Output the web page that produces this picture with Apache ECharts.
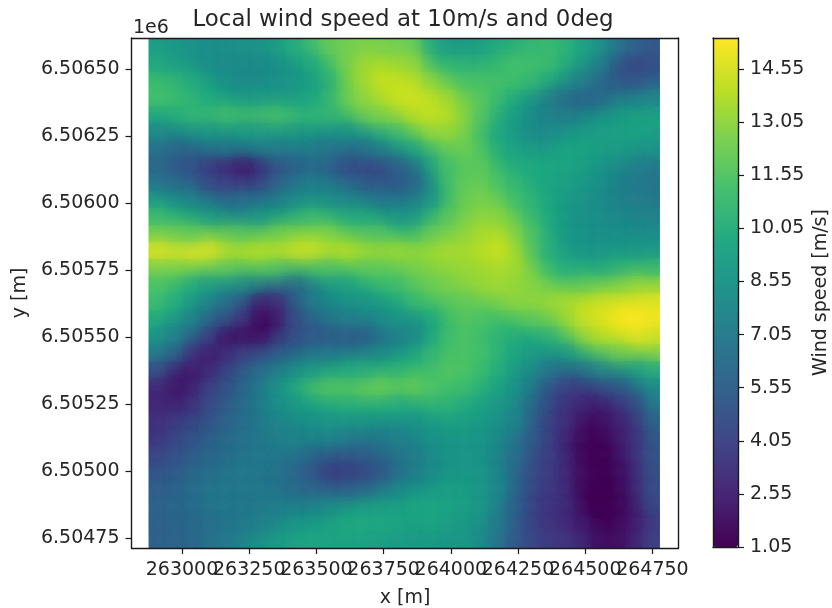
<!DOCTYPE html>
<html>
<head>
<meta charset="utf-8">
<style>html,body{margin:0;padding:0;background:#fff}#c{width:832px;height:608px}</style>
<script src="https://cdn.jsdelivr.net/npm/echarts@6/dist/echarts.min.js"></script>
</head>
<body>
<div id="c"></div>
<script>
const titleText = 'Local wind speed at 10m/s and 0deg';
const xTicks = [263000,263250,263500,263750,264000,264250,264500,264750];
const yTicks = [6504750,6505000,6505250,6505500,6505750,6506000,6506250,6506500];
const barTicks = [1.05,2.55,4.05,5.55,7.05,8.55,10.05,11.55,13.05,14.55];
const viridis = ['#440154','#482475','#414487','#355f8d','#2a788e','#21918c','#22a884','#44bf70','#7ad151','#bddf26','#fde725'];
const xRange = [262875,264778];
const yRange = [6504714,6506615];
const xLimits = [262812,264847];
// wind speed, rows run top to bottom, columns left to right
const speed = [
[9.0,8.8,8.4,8.2,8.2,8.4,8.6,9.0,10.0,11.0,12.0,12.4,12.6,12.6,12.4,12.2,10.0,9.0,8.8,9.2,9.8,10.2,10.6,10.8,10.4,9.4,8.4,7.0,5.8,5.2],
[9.8,9.2,8.6,8.2,8.0,7.9,8.0,8.2,8.8,9.8,11.0,12.4,13.4,13.7,13.6,13.2,11.2,10.6,10.4,10.4,10.8,11.2,11.2,11.0,10.2,9.0,7.4,5.0,4.0,4.6],
[11.0,10.8,10.0,9.2,8.4,8.0,8.0,8.3,8.6,8.9,10.2,12.2,13.4,14.2,14.2,14.2,13.0,12.0,11.4,11.3,11.3,11.1,10.6,9.8,8.6,7.2,6.0,5.2,5.0,5.6],
[11.2,11.2,10.6,9.8,9.2,9.0,9.0,9.0,9.2,9.6,10.6,12.0,13.0,13.8,14.2,14.4,14.2,13.4,12.4,11.8,10.8,9.8,8.6,7.2,5.8,5.6,6.0,7.2,7.8,7.8],
[9.8,10.0,10.6,11.0,11.2,11.4,11.6,11.4,11.2,10.6,10.6,11.2,12.0,12.6,13.2,13.8,14.2,14.0,13.0,11.6,10.0,9.0,8.2,7.6,7.2,7.6,8.4,9.0,9.6,9.4],
[8.0,8.0,8.2,8.6,8.6,8.8,9.0,9.0,8.8,8.6,8.4,8.4,9.0,10.0,11.0,12.0,13.0,13.2,12.6,11.2,9.6,8.6,8.0,8.0,8.6,9.0,9.2,9.4,9.4,9.2],
[6.6,6.0,6.0,6.4,6.8,7.0,7.0,7.2,7.4,7.2,6.8,6.4,6.6,7.4,8.4,9.6,11.0,12.0,12.2,11.6,10.2,9.4,9.0,9.2,9.6,9.6,9.2,9.0,8.8,8.6],
[6.0,5.0,4.8,3.6,2.6,2.2,2.8,4.4,5.6,6.0,5.8,4.6,4.0,4.2,5.6,6.2,9.0,11.2,11.8,11.8,10.8,10.0,9.8,9.8,9.6,9.2,8.6,8.0,7.4,7.0],
[7.0,6.4,5.8,4.6,4.0,3.8,4.2,5.8,6.8,7.4,7.2,6.4,5.6,5.2,5.2,5.8,8.0,11.0,12.0,12.2,11.4,10.6,10.0,9.6,9.2,8.8,8.2,7.6,7.0,6.8],
[9.0,8.4,7.8,7.0,6.6,6.4,6.8,7.4,8.0,8.4,8.2,7.8,7.4,7.0,7.0,7.0,8.6,11.0,12.2,12.6,12.2,11.2,10.4,9.6,9.0,8.4,8.0,7.6,7.2,7.0],
[11.0,10.4,9.8,9.0,8.4,8.2,8.6,9.4,10.4,11.0,10.8,10.2,9.8,9.2,8.8,8.8,10.6,11.8,12.6,13.0,13.0,12.0,10.8,9.6,8.8,8.4,8.2,8.0,7.8,7.6],
[12.6,12.4,12.0,12.4,12.0,11.8,12.0,12.4,12.8,13.0,12.8,12.2,12.0,11.6,11.0,11.2,12.2,12.6,13.0,13.6,13.8,13.0,11.4,9.8,8.8,8.4,8.2,8.2,8.2,8.2],
[14.8,15.0,15.0,14.8,14.2,14.0,14.0,14.2,14.4,14.4,14.2,14.0,13.8,13.6,13.4,13.4,13.4,13.6,13.6,13.9,14.3,13.6,11.8,10.0,9.0,8.6,8.6,8.8,8.8,8.8],
[12.6,12.6,12.4,12.2,11.8,11.6,11.6,11.4,10.8,10.8,11.4,11.6,11.8,11.8,12.0,12.5,12.8,13.0,13.2,13.4,13.6,13.4,12.4,11.0,10.0,10.0,10.0,10.4,10.8,10.8],
[11.4,10.8,10.0,9.0,8.4,8.0,7.6,7.0,6.0,7.0,8.4,9.2,10.0,10.6,11.0,11.7,12.2,12.6,13.0,13.2,13.4,13.2,12.8,12.2,11.8,12.0,12.4,12.8,13.2,13.2],
[11.0,10.0,9.0,7.6,6.4,5.0,2.4,3.0,5.8,7.2,8.0,8.4,8.6,9.0,9.6,10.8,11.2,11.6,12.0,12.2,12.4,13.0,13.2,13.2,13.6,14.2,14.4,14.8,14.8,14.8],
[10.0,9.0,7.6,6.0,5.0,3.6,1.4,2.0,4.6,5.8,6.8,7.2,7.6,8.0,8.6,8.4,9.6,11.0,11.6,11.4,11.0,11.2,11.8,12.4,13.2,14.4,14.8,15.2,15.4,15.2],
[8.8,7.6,6.0,4.0,1.8,1.6,1.8,3.6,4.6,5.2,5.0,5.2,5.2,6.0,7.0,7.9,9.4,11.0,11.4,11.0,10.4,10.0,9.8,10.4,11.6,13.0,14.0,14.4,14.8,14.4],
[7.4,6.0,3.4,2.2,3.0,4.0,4.6,5.4,6.0,6.8,7.0,7.2,7.4,8.0,8.8,9.5,10.6,11.4,11.4,11.2,10.4,9.6,9.0,8.6,9.0,10.4,11.6,12.4,12.8,12.8],
[4.8,2.8,2.2,3.0,4.4,5.4,6.4,7.4,8.0,8.8,9.6,9.8,10.0,10.2,10.4,10.9,11.0,11.6,11.6,11.0,10.0,9.0,8.0,6.8,6.2,6.6,7.6,8.4,9.0,10.0],
[3.0,2.2,2.6,4.0,5.0,6.0,7.0,8.4,10.0,11.3,11.7,11.9,12.1,12.3,12.3,12.3,11.6,11.2,11.0,10.4,9.4,8.4,7.0,5.0,4.0,3.8,4.2,5.0,6.4,8.0],
[2.8,2.6,3.2,4.4,5.4,6.4,7.4,8.2,8.8,9.4,10.0,10.2,10.2,10.0,10.0,10.0,10.4,10.4,10.0,9.4,8.8,8.0,6.0,4.6,3.4,2.8,2.6,3.4,4.6,7.2],
[3.2,3.8,4.4,5.0,5.8,6.4,7.0,7.6,8.0,8.2,8.6,8.8,8.8,8.6,8.4,8.5,9.0,9.2,9.2,8.8,8.4,7.6,5.6,4.2,3.1,1.8,1.8,2.6,3.6,5.8],
[3.4,4.2,5.0,5.6,6.2,6.6,7.0,7.4,7.6,7.8,7.6,7.2,7.0,7.0,7.4,7.7,8.4,8.6,8.8,8.6,8.2,7.0,5.2,4.0,2.9,1.6,1.4,2.2,3.4,5.4],
[4.2,4.8,5.4,6.0,6.4,6.8,7.0,7.0,6.8,6.0,5.6,5.0,5.4,6.0,6.6,7.1,8.0,8.4,8.6,8.4,7.8,6.4,4.8,3.8,2.9,1.6,1.3,2.0,3.2,5.0],
[5.0,5.4,6.0,6.4,6.8,7.0,7.0,6.8,6.0,5.0,3.8,3.6,3.8,5.0,6.4,7.0,8.0,8.6,8.8,8.6,7.8,6.2,4.6,3.8,3.1,1.6,1.2,1.8,3.0,4.8],
[5.4,5.8,6.4,6.8,7.0,7.0,7.0,6.8,6.4,6.0,5.4,5.4,6.0,6.8,7.8,8.4,8.8,9.2,9.2,8.8,7.8,6.0,4.4,3.6,3.1,1.6,1.1,1.6,2.8,4.6],
[5.8,6.0,6.4,6.8,7.0,7.0,7.0,7.2,7.4,7.8,8.0,8.6,9.4,9.2,9.4,9.6,9.6,9.4,9.2,8.8,7.4,5.6,4.2,3.4,3.1,1.6,1.1,1.4,2.6,4.4],
[5.6,5.8,6.0,6.4,6.8,7.0,7.4,8.0,8.6,9.0,9.4,9.8,10.0,9.8,9.6,9.5,9.6,9.2,9.0,8.4,7.0,5.4,4.2,3.4,2.8,2.2,1.5,1.6,2.4,4.0],
[5.6,5.8,6.0,6.6,7.0,7.8,8.4,9.0,9.4,9.6,9.4,9.4,9.4,9.2,9.0,8.8,8.8,8.6,8.6,8.0,6.8,5.2,4.4,3.8,3.4,2.8,1.8,1.8,2.8,4.0]
];

const nRows = speed.length, nCols = speed[0].length;
const dx = (xRange[1]-xRange[0])/nCols, dy = (yRange[1]-yRange[0])/nRows;
const cells = [];
speed.forEach((row,r)=>row.forEach((v,c)=>{
  cells.push([xRange[0]+dx*(c+.5), yRange[1]-dy*(r+.5), v]);
}));
// same cells, painted in a scattered order so the soft pass has no directional bias
const scattered = k => cells.map((_,i)=>cells[(i*k)%cells.length]);

const font = 'DejaVu Sans';
const ink = '#1a1a1a';
const fs = 19;
const tickStyle = {show:true,length:6,inside:false,lineStyle:{color:ink,width:1.2}};
const frame = {show:true,onZero:false,lineStyle:{color:ink,width:1.4}};
const labels = {color:'#262626',fontFamily:font,fontSize:fs};
const nameStyle = {color:'#262626',fontFamily:font,fontSize:fs};
const plain = {axisLine:frame,axisTick:{show:false},axisLabel:{show:false},splitLine:{show:false},z:20};

function cellRect(api){
  const x=api.value(0),y=api.value(1);
  const a=api.coord([x-dx/2,y+dy/2]),b=api.coord([x+dx/2,y-dy/2]);
  return {x:a[0],y:a[1],width:b[0]-a[0]+.6,height:b[1]-a[1]+.6};
}
function softCell(params,api){
  const s=cellRect(api),col=api.visual('color'),off=3000;
  s.x-=off;
  return {type:'rect',shape:s,style:{fill:col,stroke:null,shadowBlur:18,shadowColor:col,shadowOffsetX:off}};
}
const softSeries = k => ({type:'custom',xAxisIndex:0,yAxisIndex:0,coordinateSystem:'cartesian2d',
  encode:{x:0,y:1},data:scattered(k),clip:true,silent:true,renderItem:softCell});

const chart = echarts.init(document.getElementById('c'),null,{renderer:'canvas'});
chart.setOption({
  animation:false,
  backgroundColor:'#fff',
  title:{text:titleText,left:398,top:4,textAlign:'center',textStyle:{color:'#262626',fontFamily:font,fontSize:22.9,fontWeight:'normal'}},
  grid:[
    {left:131.5,top:38,width:547,height:510,show:false,outerBoundsMode:'none',containLabel:false},
    {left:713,top:38,width:25,height:509,show:false,outerBoundsMode:'none',containLabel:false}
  ],
  xAxis:[
    {type:'value',gridIndex:0,min:xLimits[0],max:xLimits[1],position:'bottom',z:20,
     name:'x [m]',nameLocation:'middle',nameGap:41,nameTextStyle:nameStyle,
     axisLine:frame,splitLine:{show:false},
     axisTick:Object.assign({customValues:xTicks},tickStyle),
     axisLabel:Object.assign({customValues:[xLimits[0]].concat(xTicks,[xLimits[1]]),margin:13,hideOverlap:false,
       formatter:v=>xTicks.includes(v)?String(v):' '},labels)},
    Object.assign({type:'value',gridIndex:0,min:xLimits[0],max:xLimits[1],position:'top'},plain),
    Object.assign({type:'value',gridIndex:1,min:0,max:1,position:'bottom'},plain),
    Object.assign({type:'value',gridIndex:1,min:0,max:1,position:'top'},plain)
  ],
  yAxis:[
    {type:'value',gridIndex:0,min:yRange[0],max:yRange[1],position:'left',z:20,
     name:'y [m]',nameLocation:'middle',nameGap:102,nameTextStyle:nameStyle,
     axisLine:frame,splitLine:{show:false},
     axisTick:Object.assign({customValues:yTicks},tickStyle),
     axisLabel:Object.assign({customValues:yTicks,margin:12,formatter:v=>(v/1e6).toFixed(5)},labels)},
    Object.assign({type:'value',gridIndex:0,min:yRange[0],max:yRange[1],position:'right'},plain),
    {type:'value',gridIndex:1,min:1.05,max:15.43,position:'right',z:20,
     name:'Wind speed [m/s]',nameLocation:'middle',nameGap:74,nameRotate:90,nameTextStyle:nameStyle,
     axisLine:frame,splitLine:{show:false},
     axisTick:Object.assign({customValues:barTicks},tickStyle),
     axisLabel:Object.assign({customValues:barTicks,margin:12,showMinLabel:true,verticalAlignMinLabel:'middle',formatter:v=>v.toFixed(2)},labels)},
    Object.assign({type:'value',gridIndex:1,min:1.05,max:15.43,position:'left'},plain)
  ],
  visualMap:{
    type:'continuous',seriesIndex:[0,1,2],dimension:2,min:1.05,max:15.43,z:1,
    left:713,top:38,itemWidth:25,itemHeight:509,padding:0,
    text:null,showLabel:false,calculable:false,realtime:false,hoverLink:false,
    inRange:{color:viridis},
    textStyle:{color:'rgba(0,0,0,0)',fontSize:1}
  },
  graphic:[
    {type:'text',left:133,top:19,style:{text:'1e6',fill:'#262626',font:'19px "DejaVu Sans"'}}
  ],
  series:[{
    type:'custom',xAxisIndex:0,yAxisIndex:0,coordinateSystem:'cartesian2d',
    encode:{x:0,y:1},data:cells,clip:true,silent:true,
    renderItem:function(params,api){
      return {type:'rect',shape:cellRect(api),style:{fill:api.visual('color'),stroke:null}};
    }
  },
  softSeries(437), softSeries(653),
  {
    // white margins either side of the data, inside the frame
    type:'custom',xAxisIndex:0,yAxisIndex:0,coordinateSystem:'cartesian2d',silent:true,clip:true,
    data:[[xLimits[0],xRange[0]],[xRange[1],xLimits[1]]],
    renderItem:function(params,api){
      const a=api.coord([api.value(0),yRange[1]]),b=api.coord([api.value(1),yRange[0]]);
      return {type:'rect',shape:{x:a[0],y:a[1],width:b[0]-a[0],height:b[1]-a[1]},style:{fill:'#fff'}};
    }
  }]
});
</script>
</body>
</html>
